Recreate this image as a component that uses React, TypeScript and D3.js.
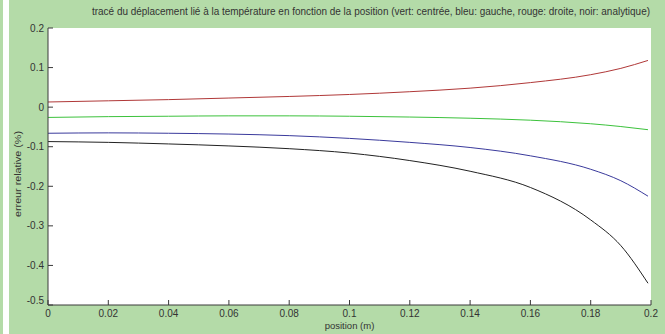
import React from "react";
import * as d3 from "d3";

const positions = [0, 0.02, 0.04, 0.06, 0.08, 0.1, 0.12, 0.14, 0.16, 0.18, 0.19, 0.199];
const redRight = [0.013, 0.016, 0.019, 0.023, 0.027, 0.032, 0.039, 0.048, 0.062, 0.082, 0.098, 0.118];
const greenCentered = [-0.026, -0.024, -0.023, -0.022, -0.022, -0.023, -0.025, -0.028, -0.033, -0.042, -0.049, -0.057];
const blueLeft = [-0.066, -0.065, -0.066, -0.068, -0.072, -0.079, -0.089, -0.102, -0.123, -0.157, -0.186, -0.225];
const blackAnalytic = [-0.087, -0.089, -0.093, -0.098, -0.105, -0.116, -0.135, -0.162, -0.203, -0.285, -0.35, -0.445];

const xTicks = [0, 0.02, 0.04, 0.06, 0.08, 0.1, 0.12, 0.14, 0.16, 0.18, 0.2];
const yTicks = [0.2, 0.1, 0, -0.1, -0.2, -0.3, -0.4, -0.5];

const series = [
  { name: "rouge", values: redRight, color: "#b03838" },
  { name: "vert", values: greenCentered, color: "#3cc23c" },
  { name: "bleu", values: blueLeft, color: "#3a3a9c" },
  { name: "noir", values: blackAnalytic, color: "#222222" },
];

const title =
  "tracé du déplacement lié à la température en fonction de la position (vert: centrée, bleu: gauche, rouge: droite, noir: analytique)";

export default function App() {
  const W = 665, H = 334;
  const left = 48, right = 651, top = 28, bottom = 305;
  const x = d3.scaleLinear().domain([0, 0.2]).range([left, right]);
  const y = d3.scaleLinear().domain([-0.5, 0.2]).range([bottom, top]);
  const line = d3
    .line<number>()
    .x((_, i) => x(positions[i]))
    .y((v) => y(v))
    .curve(d3.curveMonotoneX);
  const green = "#b4dba8";
  const axisColor = "#3a3a3a";
  const font = "Liberation Sans, Arial, sans-serif";
  const fmt = (v: number) => (v === 0 ? "0" : String(v));
  return (
    <div style={{ position: "fixed", left: 0, top: 0 }}>
      <svg width={W} height={H} style={{ display: "block" }}>
        <rect x={0} y={0} width={W} height={H} fill={green} />
        <rect x={3} y={0} width={6} height={H} fill="#ffffff" />
        <rect x={left} y={top} width={right - left} height={bottom - top} fill="#ffffff" />
        {series.map((s) => (
          <path key={s.name} d={line(s.values) || ""} fill="none" stroke={s.color} strokeWidth={1} />
        ))}
        <line x1={left} x2={left} y1={top} y2={bottom} stroke={axisColor} strokeWidth={1} />
        <line x1={left} x2={right} y1={bottom} y2={bottom} stroke={axisColor} strokeWidth={1} />
        {yTicks.map((t) => (
          <g key={"y" + t}>
            <line x1={left} x2={left + 5} y1={y(t)} y2={y(t)} stroke={axisColor} />
            <text
              x={left - 4}
              y={t === -0.5 ? y(t) - 1 : y(t) + 3.5}
              textAnchor="end"
              fontSize={10}
              fontFamily={font}
              fill="#333"
            >
              {fmt(t)}
            </text>
          </g>
        ))}
        {xTicks.map((t) => (
          <g key={"x" + t}>
            <line x1={x(t)} x2={x(t)} y1={bottom} y2={bottom - 5} stroke={axisColor} />
            <text x={x(t)} y={bottom + 12} textAnchor="middle" fontSize={10} fontFamily={font} fill="#333">
              {fmt(t)}
            </text>
          </g>
        ))}
        <text
          x={(left + right) / 2}
          y={bottom + 24}
          textAnchor="middle"
          fontSize={9.5}
          fontFamily={font}
          fill="#333"
        >
          position (m)
        </text>
        <text
          transform={`translate(21,174) rotate(-90)`}
          textAnchor="middle"
          fontSize={9.5}
          fontFamily={font}
          fill="#333"
          textLength={86}
          lengthAdjust="spacingAndGlyphs"
        >
          erreur relative (%)
        </text>
        <text
          x={92}
          y={15}
          fontSize={10}
          fontFamily={font}
          fill="#333"
          textLength={558}
          lengthAdjust="spacingAndGlyphs"
        >
          {title}
        </text>
      </svg>
    </div>
  );
}
